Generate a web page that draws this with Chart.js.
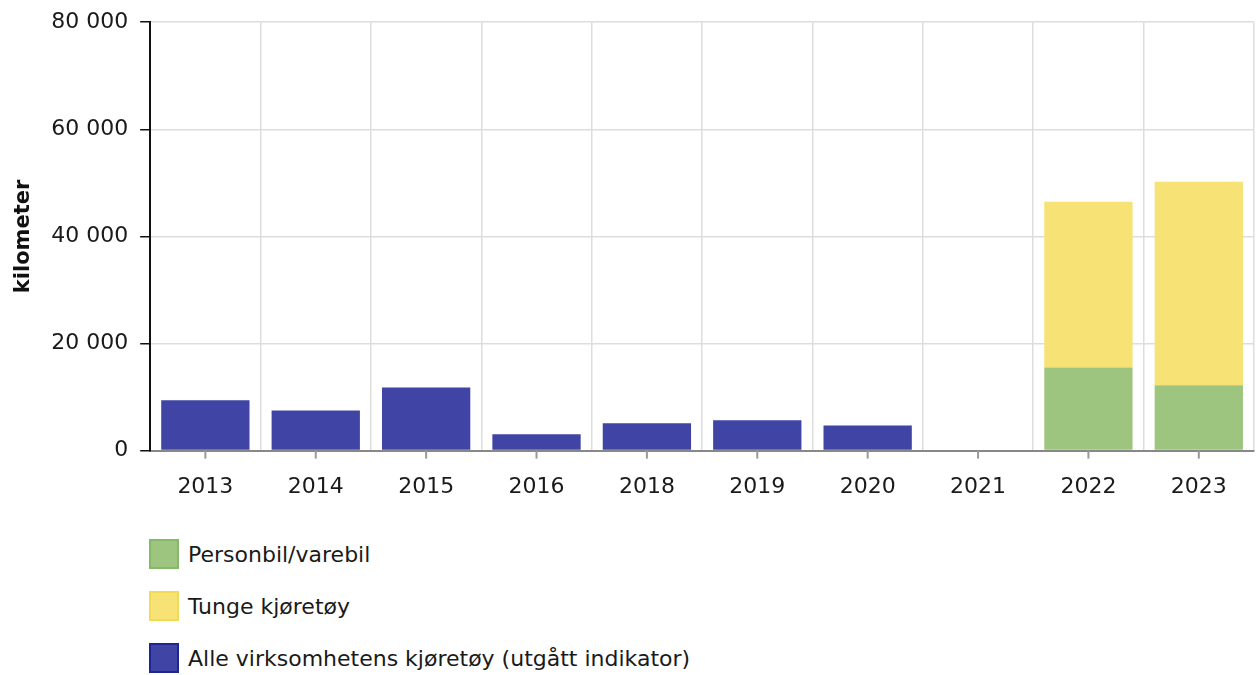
<!DOCTYPE html>
<html>
<head>
<meta charset="utf-8">
<script src="https://cdn.jsdelivr.net/npm/chart.js@4"></script>
<style>
  body { margin: 0; background: #fff; font-family: "DejaVu Sans", Verdana, sans-serif; }
  #wrap { position: relative; top: -3px; width: 1258px; height: 539px; }
  #legend { position: absolute; left: 149px; top: 539px; }
  .item { display: flex; align-items: center; height: 30px; margin-bottom: 22px; font-size: 22px; color: #1a1a1a; }
  .box { width: 26px; height: 26px; border: 2px solid; margin-right: 9px; }
</style>
</head>
<body>
<div id="wrap"><canvas id="chart0"></canvas></div>
<div id="legend"></div>
<script>
const years = ['2013', '2014', '2015', '2016', '2018', '2019', '2020', '2021', '2022', '2023'];
const personbil = [null, null, null, null, null, null, null, null, 15500, 12200];
const tunge = [null, null, null, null, null, null, null, null, 30950, 38000];
const alle = [9400, 7500, 11800, 3050, 5100, 5650, 4700, null, null, null];
const yTicks = [0, 20000, 40000, 60000, 80000];

const fmt = v => String(v).replace(/\B(?=(\d{3})+(?!\d))/g, ' ');

// tick marks on category centres (grid lines sit between categories)
const centreTicks = {
    id: 'centreTicks',
    afterDraw(chart) {
        const x = chart.scales.x;
        const ctx = chart.ctx;
        ctx.save();
        ctx.strokeStyle = '#999';
        ctx.lineWidth = 2;
        years.forEach((y, i) => {
            const px = x.getPixelForValue(i);
            ctx.beginPath();
            ctx.moveTo(px, x.top);
            ctx.lineTo(px, x.top + 8);
            ctx.stroke();
        });
        ctx.restore();
    }
};

const grafico0 = document.getElementById('chart0').getContext('2d');
const chart = new Chart(grafico0, {
    type: 'bar',
    data: {
        labels: years,
        datasets: [
            { label: 'Personbil/varebil', data: personbil, backgroundColor: 'rgb(158,197,127)', borderColor: '#84b96a' },
            { label: 'Tunge kjøretøy', data: tunge, backgroundColor: 'rgb(246,226,117)', borderColor: '#f2da55' },
            { label: 'Alle virksomhetens kjøretøy (utgått indikator)', data: alle, backgroundColor: 'rgb(63,68,165)', borderColor: '#1f2690' }
        ]
    },
    options: {
        responsive: true,
        maintainAspectRatio: false,
        animation: false,
        barPercentage: 0.8,
        categoryPercentage: 1,
        layout: { padding: { left: 1, right: 4, top: 4, bottom: 13 } },
        font: { family: '"DejaVu Sans", Verdana, sans-serif' },
        scales: {
            x: {
                stacked: true,
                grid: { color: '#ddd', offset: true, drawTicks: false, lineWidth: 1.5 },
                border: { color: '#888', width: 2 },
                ticks: {
                    color: '#1a1a1a',
                    padding: 23,
                    font: { family: '"DejaVu Sans", Verdana, sans-serif', size: 22 }
                }
            },
            y: {
                stacked: true,
                min: 0,
                max: 80000,
                afterBuildTicks: axis => { axis.ticks = yTicks.map(v => ({ value: v })); },
                grid: { color: '#ddd', tickColor: '#111', tickLength: 10, lineWidth: 1.5 },
                border: { color: '#111', width: 2 },
                ticks: {
                    color: '#1a1a1a',
                    padding: 12,
                    font: { family: '"DejaVu Sans", Verdana, sans-serif', size: 22 },
                    callback: value => fmt(value)
                },
                title: {
                    display: true,
                    text: 'kilometer',
                    color: '#111',
                    padding: { top: 10, bottom: 3 },
                    font: { family: '"DejaVu Sans", Verdana, sans-serif', size: 21, weight: 'bold' }
                }
            }
        },
        plugins: {
            legend: { display: false },
            tooltip: { enabled: false }
        }
    },
    plugins: [centreTicks]
});

const legend = document.getElementById('legend');
chart.data.datasets.forEach(ds => {
    const row = document.createElement('div');
    row.className = 'item';
    const box = document.createElement('span');
    box.className = 'box';
    box.style.background = ds.backgroundColor;
    box.style.borderColor = ds.borderColor;
    row.appendChild(box);
    row.appendChild(document.createTextNode(ds.label));
    legend.appendChild(row);
});
</script>
</body>
</html>
